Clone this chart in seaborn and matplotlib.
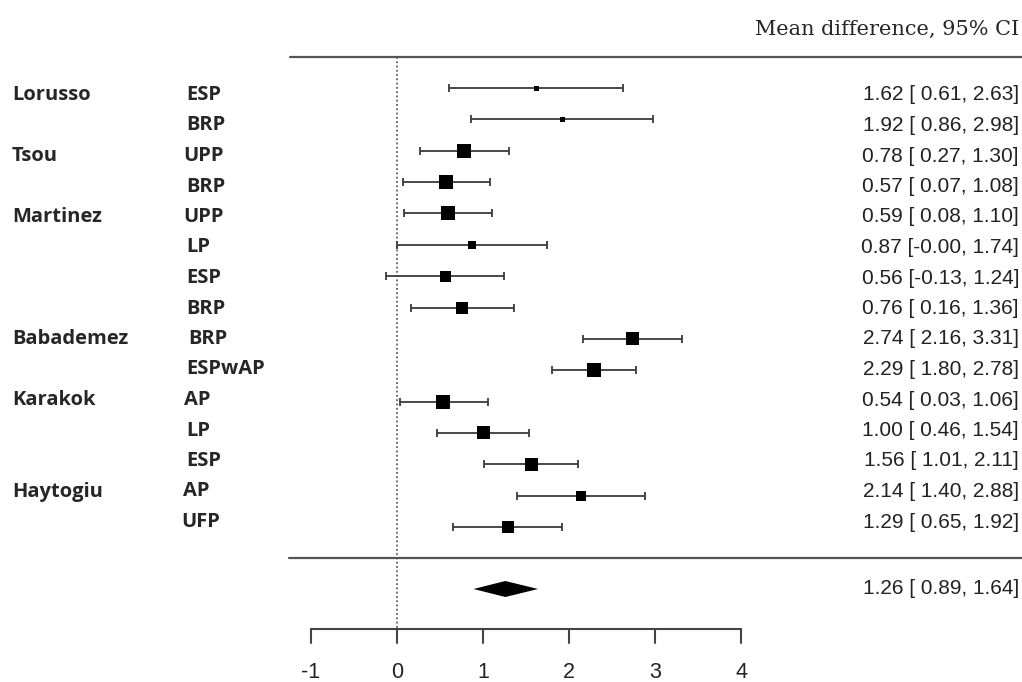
import numpy as np
import pandas as pd
import matplotlib
matplotlib.use("Agg")
import matplotlib.pyplot as plt
import seaborn as sns

# data
studies = ["Lorusso", "", "Tsou", "", "Martinez", "", "", "",
           "Babademez", "", "Karakok", "", "", "Haytogiu", ""]
groups = ["ESP", "BRP", "UPP", "BRP", "UPP", "LP", "ESP", "BRP",
          "BRP", "ESPwAP", "AP", "LP", "ESP", "AP", "UFP"]
md = [1.62, 1.92, 0.78, 0.57, 0.59, 0.87, 0.56, 0.76,
      2.74, 2.29, 0.54, 1.00, 1.56, 2.14, 1.29]
lower = [0.61, 0.86, 0.27, 0.07, 0.08, -0.00, -0.13, 0.16,
         2.16, 1.80, 0.03, 0.46, 1.01, 1.40, 0.65]
upper = [2.63, 2.98, 1.30, 1.08, 1.10, 1.74, 1.24, 1.36,
         3.31, 2.78, 1.06, 1.54, 2.11, 2.88, 1.92]
# box side (px) ~ study weight
box_px = [5, 5, 14, 14, 14, 8, 11, 12, 13, 14, 14, 13, 13, 10, 12]
pooled = 1.26
pooled_lo = 0.89
pooled_hi = 1.64
xticks = [-1, 0, 1, 2, 3, 4]

df = pd.DataFrame({"study": studies, "group": groups, "md": md,
                   "lower": lower, "upper": upper, "box": box_px})
df["row"] = np.arange(len(df))

sns.set_style("white")
plt.rcParams["font.family"] = ["Liberation Sans", "DejaVu Sans"]

W, H = 1022, 682
fig = plt.figure(figsize=(W / 100, H / 100), dpi=100)
ax = fig.add_axes([0, 0, 1, 1])
ax.axis("off")

# pixel layout helpers
X0, XS = 397, 86.0       # px of x=0, px per unit
Y0, YS = 88, 31.36       # px of first row, px per row
ax.set_xlim(-X0 / XS, (W - X0) / XS)
ax.set_ylim((H - Y0) / YS, -Y0 / YS)

def px_x(p):
    return (p - X0) / XS

def px_y(p):
    return (p - Y0) / YS

line_col = "#3a3a3a"

# confidence intervals
ax.errorbar(df["md"], df["row"],
            xerr=[df["md"] - df["lower"], df["upper"] - df["md"]],
            fmt="none", ecolor=line_col, elinewidth=1.3, capsize=3.2,
            capthick=1.3, zorder=2)

# weighted boxes
sns.scatterplot(data=df, x="md", y="row", marker="s", color="black",
                s=(df["box"] * 0.72) ** 2, linewidth=0, legend=False,
                ax=ax, zorder=3)

# pooled diamond
yd = px_y(589)
hd = 8 / YS
ax.fill([pooled_lo, pooled, pooled_hi, pooled],
        [yd, yd - hd, yd, yd + hd], color="black", lw=0, zorder=3)

# horizontal rules
ax.plot([px_x(290), px_x(W)], [px_y(57), px_y(57)], color="#555555", lw=1.6)
ax.plot([px_x(289), px_x(W)], [px_y(558), px_y(558)], color="#555555", lw=1.6)

# reference line at zero
ax.plot([0, 0], [px_y(57), px_y(629)], color="#444444", lw=1.1,
        ls=(0, (1.2, 1.6)), zorder=1)

# x axis
ya = px_y(629)
ax.plot([xticks[0], xticks[-1]], [ya, ya], color="#444444", lw=1.5)
for t in xticks:
    ax.plot([t, t], [ya, px_y(643)], color="#444444", lw=1.5)
    ax.text(t, px_y(672), str(t), ha="center", va="center", fontsize=15.5,
            color="#222222")

# text columns (the subgroup column is a little ragged in the original)
lab_font = ["Open Sans", "DejaVu Sans"]
group_x = [186, 186, 183, 186, 183, 186, 186, 186,
           188, 186, 184, 186, 186, 183, 181]
for i, r in df.iterrows():
    ty = px_y(95 + i * 30.5)
    if r["study"]:
        ax.text(px_x(12), ty, r["study"], ha="left", va="center",
                fontsize=14.5, fontweight="bold", family=lab_font)
    ax.text(px_x(group_x[i]), ty, r["group"], ha="left", va="center",
            fontsize=14.5, fontweight="bold", family=lab_font)
    ax.text(px_x(1019), ty,
            f"{r['md']:.2f} [{r['lower']:5.2f}, {r['upper']:.2f}]",
            ha="right", va="center", fontsize=15, color="#222222")

ax.text(px_x(1019), px_y(589),
        f"{pooled:.2f} [{pooled_lo:5.2f}, {pooled_hi:.2f}]",
        ha="right", va="center", fontsize=15, color="#222222")

ax.text(px_x(1019), px_y(29), "Mean difference, 95% CI", ha="right",
        va="center", fontsize=15, family=["DejaVu Serif", "Liberation Serif"])

fig.savefig("out.png", dpi=100)
